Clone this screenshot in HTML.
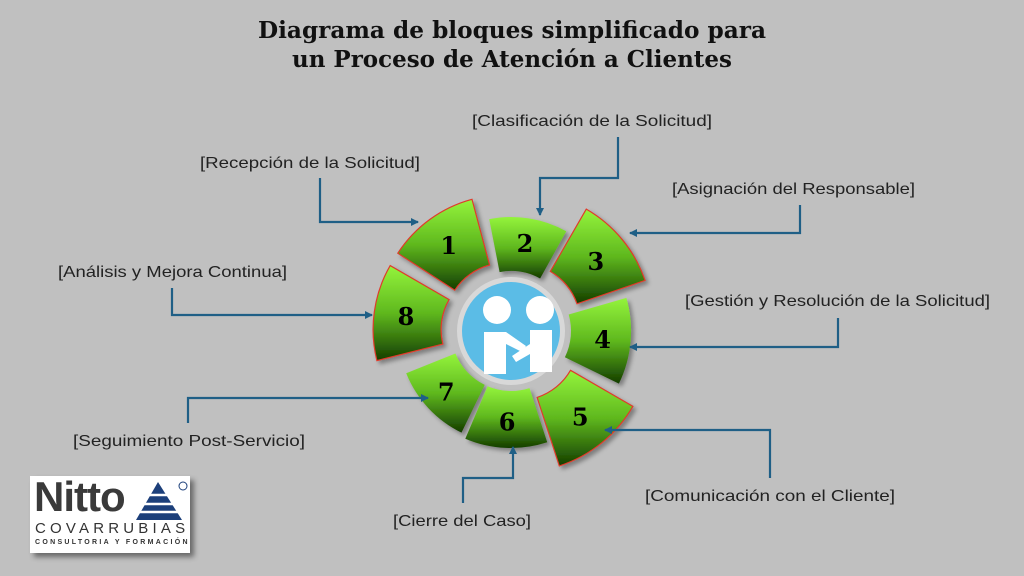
<!DOCTYPE html>
<html><head><meta charset="utf-8"><style>
html,body{margin:0;padding:0;background:#c0c0c0;}
body{width:1024px;height:576px;overflow:hidden;position:relative;font-family:"Liberation Sans",sans-serif;}
.logo{position:absolute;left:30px;top:476px;width:160px;height:77px;background:#fff;box-shadow:4px 4px 5px rgba(0,0,0,.45);}
</style></head><body>
<svg id="s" width="1024" height="576" style="position:absolute;left:0;top:0">
<defs>
<linearGradient id="g" x1="0" y1="0" x2="0" y2="1"><stop offset="0" stop-color="#94f43c"/><stop offset=".5" stop-color="#5fb81e"/><stop offset="1" stop-color="#143d00"/></linearGradient>
<marker id="a" markerWidth="8" markerHeight="8" refX="7" refY="4" orient="auto" markerUnits="userSpaceOnUse"><path d="M0,0 L8,4 L0,8 z" fill="#1f5f86"/></marker>
<filter id="sh"><feDropShadow dx="3" dy="3" stdDeviation="2" flood-opacity=".35"/></filter>
</defs>
<g font-family="DejaVu Serif, Liberation Serif, serif" font-weight="bold" font-size="23" fill="#111">
<text x="258" y="38" textLength="508" lengthAdjust="spacingAndGlyphs">Diagrama de bloques simplificado para</text>
<text x="292" y="67" textLength="440" lengthAdjust="spacingAndGlyphs">un Proceso de Atención a Clientes</text>
</g>
<g font-family="Liberation Sans, sans-serif" font-size="16" fill="#222">
<text x="200" y="168" textLength="220" lengthAdjust="spacingAndGlyphs">[Recepción de la Solicitud]</text>
<text x="472" y="126" textLength="240" lengthAdjust="spacingAndGlyphs">[Clasificación de la Solicitud]</text>
<text x="672" y="194" textLength="243" lengthAdjust="spacingAndGlyphs">[Asignación del Responsable]</text>
<text x="58" y="277" textLength="229" lengthAdjust="spacingAndGlyphs">[Análisis y Mejora Continua]</text>
<text x="685" y="306" textLength="305" lengthAdjust="spacingAndGlyphs">[Gestión y Resolución de la Solicitud]</text>
<text x="73" y="446" textLength="232" lengthAdjust="spacingAndGlyphs">[Seguimiento Post-Servicio]</text>
<text x="393" y="526" textLength="138" lengthAdjust="spacingAndGlyphs">[Cierre del Caso]</text>
<text x="645" y="501" textLength="250" lengthAdjust="spacingAndGlyphs">[Comunicación con el Cliente]</text>
</g>
<g id="segs" filter="url(#sh)"></g>
<circle cx="511" cy="331" r="54" fill="#d8d8d8"/>
<circle cx="511" cy="331" r="49" fill="#5bbce6"/>
<g fill="#fff">
<circle cx="497" cy="310" r="14"/><circle cx="540" cy="310" r="14"/>
<path d="M484 332 h22 l20 14 -4 6 -16 -8 v30 h-22z"/>
<path d="M530 330 h22 v42 h-22 v-18 l-14 8 -4 -6 18 -12z"/>
</g>
<g stroke="#1f5f86" stroke-width="2.2" fill="none" marker-end="url(#a)">
<path d="M320 178 V222 H418"/>
<path d="M618 137 V178 H540 V215"/>
<path d="M800 205 V233 H630"/>
<path d="M172 288 V315 H372"/>
<path d="M838 318 V347 H630"/>
<path d="M188 423 V398 H428"/>
<path d="M463 503 V478 H513 V447"/>
<path d="M770 478 V430 H605"/>
</g>
<g id="nums" font-family="DejaVu Serif, Liberation Serif, serif" font-weight="bold" font-size="24" text-anchor="middle" fill="#000"></g>
</svg>
<div class="logo">
<div style="position:absolute;left:4px;top:-3px;font-size:42px;font-weight:bold;color:#3a3a3a;letter-spacing:-1px">Nitto</div>
<svg style="position:absolute;left:106px;top:4px" width="54" height="44"><path d="M22 2 L46 40 H0z" fill="#1c3f7a"/><g stroke="#fff" stroke-width="2.5"><line x1="0" y1="15" x2="46" y2="15"/><line x1="0" y1="24" x2="46" y2="24"/><line x1="0" y1="32" x2="46" y2="32"/></g><circle cx="47" cy="6" r="4" fill="none" stroke="#1c3f7a"/></svg>
<div style="position:absolute;left:5px;top:44px;font-size:15px;color:#333;letter-spacing:4.2px">COVARRUBIAS</div>
<div style="position:absolute;left:5px;top:63px;font-size:7px;color:#333;letter-spacing:2.3px;font-weight:bold">CONSULTORIA Y FORMACIÓN</div>
</div>
<script>
var cx=511,cy=331,ri=60;
var S=[[1,213,255,128,10],[2,259,299,114,0],[3,300,341,132,12],[4,-16,26,120,0],[5,30,72,132,12],[6,72,113,117,0],[7,116,158,113,0],[8,166,210,128,10]];
var g=document.getElementById('segs'),n=document.getElementById('nums'),ns='http://www.w3.org/2000/svg';
S.forEach(function(s){
 var m=(s[1]+s[2])/2,ma=m*Math.PI/180,ox=cx+s[4]*Math.cos(ma),oy=cy+s[4]*Math.sin(ma);
 function p(r,a){a=a*Math.PI/180;return (ox+r*Math.cos(a)).toFixed(1)+','+(oy+r*Math.sin(a)).toFixed(1);}
 var d='M'+p(ri,s[1])+' L'+p(s[3],s[1])+' A'+s[3]+','+s[3]+' 0 0 1 '+p(s[3],s[2])+' L'+p(ri,s[2])+' A'+ri+','+ri+' 0 0 0 '+p(ri,s[1])+'z';
 var e=document.createElementNS(ns,'path');e.setAttribute('d',d);e.setAttribute('fill','url(#g)');
 if(s[4]){e.setAttribute('stroke','#e03a2a');e.setAttribute('stroke-width','1.2');}
 g.appendChild(e);
 var r=(ri+s[3])/2+2;
 var t=document.createElementNS(ns,'text');t.setAttribute('x',ox+r*Math.cos(ma));t.setAttribute('y',oy+r*Math.sin(ma)+9);t.textContent=s[0];n.appendChild(t);
});
</script>
</body></html>
